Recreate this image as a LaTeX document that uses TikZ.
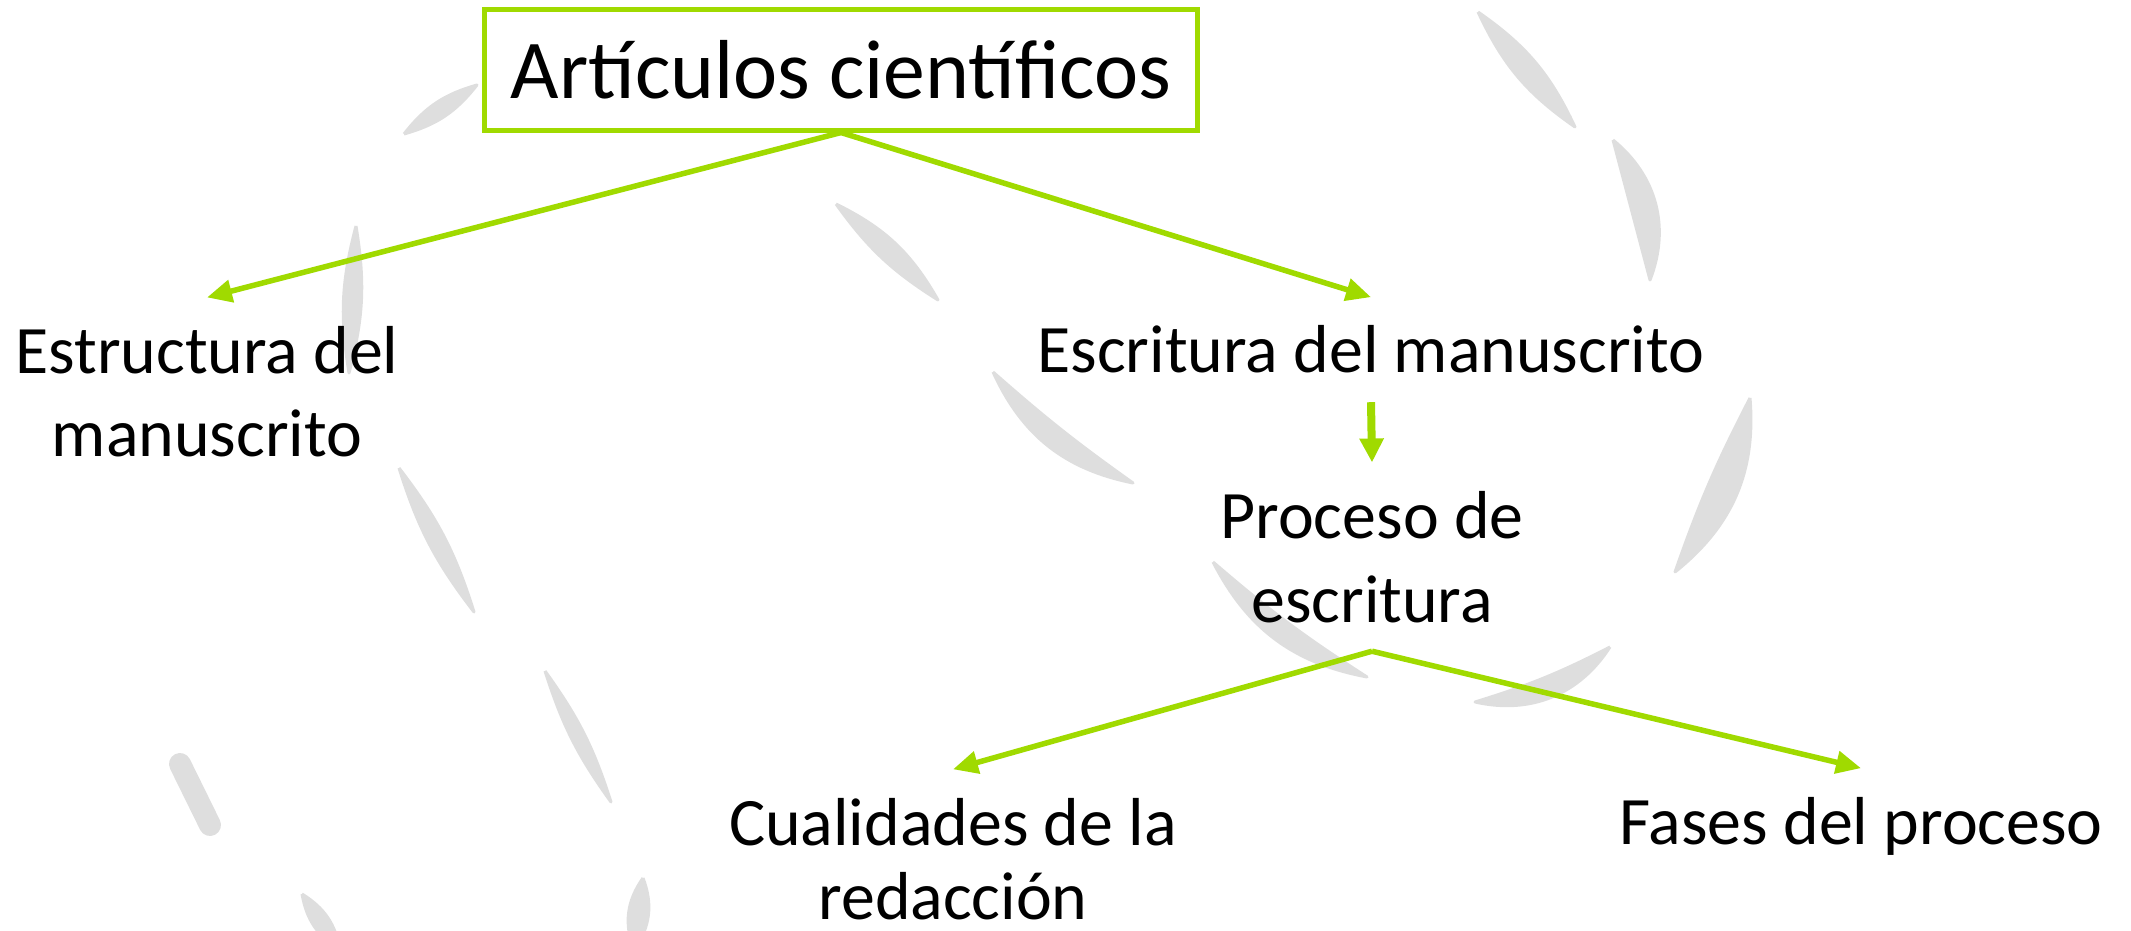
\documentclass[tikz,border=0pt]{standalone}
\usepackage{fontspec}
\setmainfont{Carlito}
\usetikzlibrary{arrows.meta,positioning}

\definecolor{verde}{RGB}{160,218,0}
\definecolor{trazo}{RGB}{222,222,222}

\begin{document}
\begin{tikzpicture}[x=0.01cm,y=-0.01cm]
  \tikzset{
    titulo/.style={
      draw=verde,
      line width=0.05cm,
      fill=white,
      minimum width=7.13cm,
      minimum height=1.2cm,
      font=\fontsize{23.8}{28}\selectfont
    },
    tema/.style={
      inner sep=0.28cm,
      align=center,
      font=\fontsize{19.3}{23.8}\selectfont
    },
    line/.style={
      draw,
      color=verde,
      line width=0.055cm,
      -{Triangle[length=0.25cm,width=0.22cm]}
    },
    brocha/.style={
      fill=trazo,
      draw=trazo,
      line width=0.03cm,
      line join=round
    }
  }
  \useasboundingbox (0,0) rectangle (2131,931);

  % trazos de fondo
  \path[brocha] (404,134) to[bend left=18] (477,85) to[bend left=18] (404,134);
  \path[brocha] (836,204) to[bend left=17] (938,300) to[bend left=11] (836,204);
  \path[brocha] (356,226) to[bend left=12] (349,373) to[bend left=12] (356,226);
  \path[brocha] (399,468) to[bend left=10] (474,612) to[bend left=10] (399,468);
  \path[brocha] (545,671) to[bend left=9] (611,802) to[bend left=9] (545,671);
  \path[brocha, line width=0.22cm, line cap=round] (180,764) -- (210,825);
  \path[brocha] (302,894) to[bend left=24] (340,950) to[bend left=24] (302,894);
  \path[brocha] (643,878) to[bend left=28] (634,950) to[bend left=28] (643,878);
  \path[brocha] (1478,12) to[bend left=15] (1575,127) to[bend left=15] (1478,12);
  \path[brocha] (1613,140) to[bend left=36] (1650,280) -- (1613,140);
  \path[brocha] (1750,398) to[bend left=28] (1675,572) to[bend left=4] (1750,398);
  \path[brocha] (1610,647) to[bend left=35] (1475,702) to[bend right=5] (1610,647);
  \path[brocha] (993,372) to[bend right=3] (1133,483) to[bend left=27] (993,372);
  \path[brocha] (1213,562) to[bend right=4] (1367,677) to[bend left=26] (1213,562);

  \node[titulo] (articulos) at (841,70) {Artículos científicos};
  \node[tema, anchor=base] (estructura) at (207,457) {Estructura del\\manuscrito};
  \node[tema, anchor=base] (escritura) at (1371,373) {Escritura del manuscrito};
  \node[tema, anchor=base] (proceso) at (1372,622) {Proceso de\\escritura};
  \node[tema, anchor=base, font=\fontsize{19.3}{21}\selectfont] (cualidades) at (953,919) {Cualidades de la\\redacción};
  \node[tema, anchor=base] (fases) at (1861,844) {Fases del proceso};

  \path
  (articulos.south) edge[line] (estructura.north)
  (articulos.south) edge[line] (escritura.north)
  (proceso.south) edge[line] (cualidades.north)
  (proceso.south) edge[line] (fases.north);

  \path
  (escritura.south) edge[line, line width=0.08cm, -{Triangle[length=0.24cm,width=0.23cm]}] (proceso.north);

\end{tikzpicture}
\end{document}
